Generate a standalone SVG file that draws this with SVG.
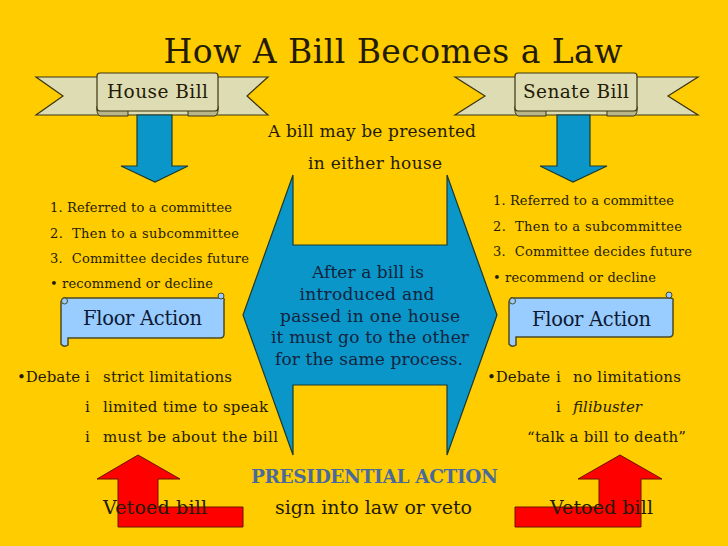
<svg xmlns="http://www.w3.org/2000/svg" width="728" height="546" viewBox="0 0 728 546">
<style>
text{font-family:"DejaVu Serif","Liberation Serif",serif;fill:#231b05}
.ttl{font-size:33px}
.bn{font-size:18.5px}
.ls{font-size:13px}
.db{font-size:15px}
.ct{font-size:17px;fill:#13233d}
.fa{font-size:19.5px;fill:#0d1a33}
.vb{font-size:19px}
.pa{font-size:18.5px;font-weight:bold;fill:#4a6a9c}
.band{fill:#dedcb3;stroke:#3b3510;stroke-width:1.2}
.fold{fill:#b9b68a;stroke:#3b3510;stroke-width:1}
.scr{fill:#99ccff;stroke:#4d4a22;stroke-width:1.5}
.blue{fill:#0a96c8;stroke:#1c3a32;stroke-width:1.2}
.red{fill:#ff0000;stroke:#6a1000;stroke-width:1}
</style>
<rect width="728" height="546" fill="#ffcc00"/>
<text class="ttl" x="393" y="63" text-anchor="middle" textLength="459">How A Bill Becomes a Law</text>

<g id="house-bill">
<path class="band" d="M36,77 L268,77 L247,96 L268,115 L36,115 L63,96 Z"/>
<path class="fold" d="M97,106 L128,110 L128,116 L100,116 Q96,114 97,106 Z"/>
<path class="fold" d="M218,106 L188,110 L188,116 L215,116 Q219,114 218,106 Z"/>
<rect class="band" x="97" y="73" width="121" height="38" rx="3"/>
<text class="bn" x="157.5" y="98" text-anchor="middle" textLength="101">House Bill</text>
</g>

<g id="senate-bill">
<path class="band" d="M455,77 L698,77 L668,96 L698,115 L455,115 L485,96 Z"/>
<path class="fold" d="M515,106 L546,110 L546,116 L518,116 Q514,114 515,106 Z"/>
<path class="fold" d="M637,106 L607,110 L607,116 L634,116 Q638,114 637,106 Z"/>
<rect class="band" x="515" y="73" width="122" height="38" rx="3"/>
<text class="bn" x="576" y="98" text-anchor="middle" textLength="106">Senate Bill</text>
</g>

<g id="connectors">
<path class="blue" d="M137,115 L172,115 L172,166 L188,166 L155,182 L121,166 L137,166 Z"/>
<path class="blue" d="M557,115 L590,115 L590,166 L607,166 L573,182 L540,166 L557,166 Z"/>
</g>

<g id="center-arrow">
<path class="blue" d="M293,175 L293,245 L447,245 L447,175 L497,315 L447,455 L447,385 L293,385 L293,455 L243,315 Z"/>
<text class="ct" x="368" y="278" text-anchor="middle" textLength="112">After a bill is</text>
<text class="ct" x="367" y="300" text-anchor="middle" textLength="135">introduced and</text>
<text class="ct" x="370" y="322" text-anchor="middle" textLength="180">passed in one house</text>
<text class="ct" x="370" y="343" text-anchor="middle" textLength="198">it must go to the other</text>
<text class="ct" x="369" y="365" text-anchor="middle" textLength="188">for the same process.</text>
</g>

<g id="presented">
<text class="ct" style="fill:#231b05" x="372" y="137" text-anchor="middle" textLength="208">A bill may be presented</text>
<text class="ct" style="fill:#231b05" x="375" y="169" text-anchor="middle" textLength="134">in either house</text>
</g>

<g id="house-steps">
<text class="ls" x="50" y="212" textLength="182">1. Referred to a committee</text>
<text class="ls" x="50" y="238" textLength="189">2.&#160; Then to a subcommittee</text>
<text class="ls" x="50" y="263" textLength="199">3.&#160; Committee decides future</text>
<text class="ls" x="50" y="288" textLength="163">• recommend or decline</text>
</g>

<g id="senate-steps">
<text class="ls" x="493" y="205" textLength="181">1. Referred to a committee</text>
<text class="ls" x="493" y="231" textLength="189">2.&#160; Then to a subcommittee</text>
<text class="ls" x="493" y="256" textLength="199">3.&#160; Committee decides future</text>
<text class="ls" x="493" y="282" textLength="163">• recommend or decline</text>
</g>

<g id="house-floor">
<path class="scr" d="M66,298 L222,298 Q225,298 224,301 L224,334 Q224,338 220,338 L68,338 L68,345 Q64,348 61,344 L61,302 Q62,297 66,298 Z"/>
<circle class="scr" cx="64.5" cy="301" r="3" style="stroke-width:1"/>
<circle class="scr" cx="221" cy="296" r="3" style="stroke-width:1"/>
<text class="fa" x="142.5" y="325" text-anchor="middle" textLength="119">Floor Action</text>
</g>

<g id="senate-floor">
<path class="scr" d="M513,298 L670,298 Q674,298 673,301 L673,333 Q673,337 669,337 L516,337 L516,345 Q512,348 509,344 L509,302 Q510,297 513,298 Z"/>
<circle class="scr" cx="512.5" cy="301" r="3" style="stroke-width:1"/>
<circle class="scr" cx="669" cy="295" r="3" style="stroke-width:1"/>
<text class="fa" x="591.5" y="326" text-anchor="middle" textLength="119">Floor Action</text>
</g>

<g id="house-debate">
<text class="db" x="17" y="382">•Debate</text>
<text class="db" x="85" y="382">i</text>
<text class="db" x="103" y="382" textLength="129">strict limitations</text>
<text class="db" x="85" y="412">i</text>
<text class="db" x="103" y="412" textLength="165">limited time to speak</text>
<text class="db" x="85" y="442">i</text>
<text class="db" x="103" y="442" textLength="175">must be about the bill</text>
</g>

<g id="senate-debate">
<text class="db" x="487" y="382">•Debate</text>
<text class="db" x="556" y="382">i</text>
<text class="db" x="573" y="382" textLength="108">no limitations</text>
<text class="db" x="556" y="412">i</text>
<text class="db" x="573" y="412" font-style="italic" textLength="69">filibuster</text>
<text class="db" x="527" y="442" textLength="159">“talk a bill to death”</text>
</g>

<g id="house-veto">
<path class="red" d="M118,527 L118,479 L97,479 L138,455 L180,479 L158,479 L158,507 L243,507 L243,527 Z"/>
<text class="vb" x="155" y="514" text-anchor="middle" textLength="104">Vetoed bill</text>
</g>

<g id="senate-veto">
<path class="red" d="M641,527 L641,479 L662,479 L620,455 L578,479 L599,479 L599,507 L515,507 L515,527 Z"/>
<text class="vb" x="601.5" y="514" text-anchor="middle" textLength="103">Vetoed bill</text>
</g>

<g id="presidential">
<text class="pa" x="374.5" y="483" text-anchor="middle" textLength="247">PRESIDENTIAL ACTION</text>
<text class="vb" x="373.5" y="514" text-anchor="middle" textLength="197">sign into law or veto</text>
</g>
</svg>
